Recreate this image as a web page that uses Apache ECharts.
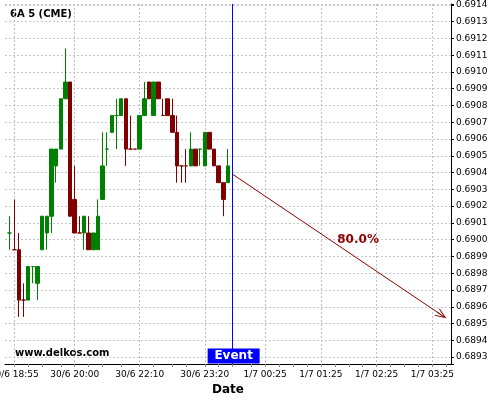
<!DOCTYPE html>
<html><head><meta charset="utf-8">
<script src="https://cdn.jsdelivr.net/npm/echarts@6/dist/echarts.min.js"></script>
<style>html,body{margin:0;padding:0;background:#fff}#c{width:500px;height:400px}</style>
</head><body><div id="c"></div>
<script>
// ---- data ----
const title = '6A 5 (CME)';
const watermark = 'www.delkos.com';
const times = [
 '30/6 18:45','30/6 18:50','30/6 18:55','30/6 19:00','30/6 19:05','30/6 19:10','30/6 19:15','30/6 19:20',
 '30/6 19:25','30/6 19:30','30/6 19:35','30/6 19:40','30/6 19:45','30/6 19:50','30/6 19:55','30/6 20:00',
 '30/6 20:05','30/6 20:10','30/6 20:15','30/6 20:20','30/6 20:25','30/6 20:30','30/6 20:35','30/6 21:40',
 '30/6 21:45','30/6 21:50','30/6 21:55','30/6 22:00','30/6 22:05','30/6 22:10','30/6 22:15','30/6 22:20',
 '30/6 22:25','30/6 22:30','30/6 22:35','30/6 22:40','30/6 22:45','30/6 22:50','30/6 22:55','30/6 23:00',
 '30/6 23:05','30/6 23:10','30/6 23:15','30/6 23:20','30/6 23:25','30/6 23:30','30/6 23:35','30/6 23:40',
 '30/6 23:45','30/6 23:50','30/6 23:55','1/7 00:00','1/7 00:05','1/7 00:10','1/7 00:15','1/7 00:20',
 '1/7 00:25','1/7 00:30','1/7 00:35','1/7 00:40','1/7 00:45','1/7 00:50','1/7 00:55','1/7 01:00',
 '1/7 01:05','1/7 01:10','1/7 01:15','1/7 01:20','1/7 01:25','1/7 01:30','1/7 01:35','1/7 01:40',
 '1/7 01:45','1/7 01:50','1/7 01:55','1/7 02:00','1/7 02:05','1/7 02:10','1/7 02:15','1/7 02:20',
 '1/7 02:25','1/7 02:30','1/7 02:35','1/7 02:40','1/7 02:45','1/7 02:50','1/7 02:55','1/7 03:00',
 '1/7 03:05','1/7 03:10','1/7 03:15','1/7 03:20','1/7 03:25','1/7 03:30','1/7 03:35','1/7 03:40','1/7 03:45'
];
const labelTimes = ['30/6 18:55','30/6 20:00','30/6 22:10','30/6 23:20','1/7 00:25','1/7 01:25','1/7 02:25','1/7 03:25'];
const minorTickTimes = ['30/6 19:10','30/6 19:25','30/6 19:45','30/6 20:15','30/6 20:30','30/6 21:50',
 '30/6 22:25','30/6 22:45','30/6 23:00','30/6 23:35','30/6 23:50','1/7 00:10','1/7 00:40','1/7 00:55',
 '1/7 01:10','1/7 01:40','1/7 01:55','1/7 02:10','1/7 02:40','1/7 02:55','1/7 03:10','1/7 03:40'];

// candles: 30/6 18:50 .. 30/6 23:45
const candleTimes = times.slice(1, 49);
const dirs   = ['u','d','d','d','u','u','u','u','u','u','u','u','u','d','d','d','u','d','u','u','u','u','u','u',
                'u','d','d','d','u','u','d','u','d','d','d','d','d','d','d','u','d','u','u','d','d','d','d','u'];
const opens  = [0.69004,0.68994,0.68994,0.68964,0.68964,0.68984,0.68974,0.68994,0.69004,0.69014,0.69044,0.69054,
                0.69084,0.69094,0.69024,0.69004,0.69004,0.69004,0.68994,0.68994,0.69024,0.69054,0.69064,0.69074,
                0.69074,0.69084,0.69054,0.69054,0.69054,0.69074,0.69094,0.69074,0.69094,0.69074,0.69084,0.69074,
                0.69064,0.69044,0.69044,0.69044,0.69054,0.69054,0.69044,0.69064,0.69054,0.69044,0.69034,0.69034];
const closes = [0.69004,0.68994,0.68964,0.68964,0.68984,0.68984,0.68984,0.69014,0.69014,0.69054,0.69054,0.69084,
                0.69094,0.69014,0.69004,0.69004,0.69014,0.68994,0.69004,0.69014,0.69044,0.69054,0.69074,0.69074,
                0.69084,0.69054,0.69054,0.69054,0.69074,0.69084,0.69084,0.69094,0.69084,0.69074,0.69074,0.69064,
                0.69044,0.69044,0.69044,0.69054,0.69044,0.69054,0.69064,0.69054,0.69044,0.69034,0.69024,0.69044];
const lows   = [0.68994,0.68994,0.68954,0.68954,0.68964,0.68974,0.68964,0.68994,0.68994,0.69004,0.69034,0.69054,
                0.69084,0.69014,0.69004,0.69004,0.68994,0.68994,0.68994,0.68994,0.69024,0.69044,0.69064,0.69054,
                0.69074,0.69044,0.69054,0.69054,0.69054,0.69074,0.69084,0.69074,0.69084,0.69074,0.69074,0.69064,
                0.69034,0.69034,0.69034,0.69044,0.69044,0.69044,0.69044,0.69054,0.69044,0.69034,0.69014,0.69034];
const highs  = [0.69014,0.69024,0.69004,0.68974,0.68984,0.68984,0.68984,0.69014,0.69014,0.69054,0.69054,0.69084,
                0.69114,0.69094,0.69044,0.69014,0.69014,0.69014,0.69004,0.69024,0.69064,0.69064,0.69074,0.69084,
                0.69084,0.69084,0.69074,0.69054,0.69074,0.69094,0.69094,0.69094,0.69094,0.69084,0.69084,0.69084,
                0.69074,0.69044,0.69054,0.69064,0.69054,0.69054,0.69064,0.69064,0.69054,0.69044,0.69034,0.69054];

const yMin = 0.689259, yMax = 0.691405;
const eventTime = '30/6 23:50';
const eventLabel = 'Event';
const projStart = ['30/6 23:50', 0.69039];
const projEnd   = ['1/7 03:35', 0.68955];
const projLabel = ['1/7 02:05', 0.69000, '80.0%'];

// ---- chart ----
const FONT = 'DejaVu Sans';
const UP = '#008000', DOWN = '#800000';
function build(dir) {
  return times.map(t => {
    const i = candleTimes.indexOf(t);
    return (i >= 0 && dirs[i] === dir) ? [opens[i], closes[i], lows[i], highs[i]] : '-';
  });
}
const tickSet = new Set(labelTimes.concat(minorTickTimes));
const chart = echarts.init(document.getElementById('c'), null, {renderer: 'canvas'});
const arrowPath = 'path://M5,0 L10,10 L8.8,10 L5,2.4 L1.2,10 L0,10 Z M4.55,0 L5.45,0 L5.45,10 L4.55,10 Z';
chart.setOption({
  animation: false,
  textStyle: {fontFamily: FONT},
  grid: {left: 5, right: 49, top: 4, bottom: 36, containLabel: false, outerBoundsMode: 'none'},
  xAxis: {
    type: 'category', data: times, boundaryGap: false,
    axisLine: {show: true, lineStyle: {color: '#000', width: 1}},
    axisTick: {show: true, length: 3, lineStyle: {color: '#888'}, interval: (i, v) => tickSet.has(v)},
    axisLabel: {show: true, interval: (i, v) => labelTimes.includes(v), fontSize: 9, color: '#000', margin: 6, fontFamily: FONT},
    splitLine: {show: true, interval: (i, v) => labelTimes.includes(v), lineStyle: {color: '#c0c0c0', type: [2, 2]}},
    name: 'Date', nameLocation: 'middle', nameGap: 19,
    nameTextStyle: {fontWeight: 'bold', fontSize: 12, color: '#000', fontFamily: FONT}
  },
  yAxis: {
    type: 'value', position: 'right', min: yMin, max: yMax, scale: true, splitNumber: 21,
    axisLine: {show: true, lineStyle: {color: '#000'}},
    axisTick: {show: true, length: 3, lineStyle: {color: '#000'}},
    axisLabel: {fontSize: 9, color: '#000', margin: 5, fontFamily: FONT,
      formatter: v => Math.abs(v * 10000 - Math.round(v * 10000)) < 0.01 ? v.toFixed(4) : ''},
    splitLine: {show: true, lineStyle: {color: '#c8c8c8', type: [2, 2]}}
  },
  graphic: [
    {type: 'text', left: 10, top: 9, style: {text: title, font: 'bold 10px "DejaVu Sans"', fill: '#000'}},
    {type: 'text', left: 15, top: 348, style: {text: watermark, font: 'bold 10px "DejaVu Sans"', fill: '#000'}}
  ],
  series: [
    {
      type: 'candlestick', name: 'up', data: build('u'), barWidth: 4, silent: true,
      itemStyle: {color: UP, color0: UP, borderColor: UP, borderColor0: UP, borderWidth: 1},
      markLine: {
        silent: true, symbol: ['none', 'none'], label: {show: false},
        lineStyle: {color: '#0000ff', width: 1, type: 'solid'},
        data: [{xAxis: eventTime}]
      },
      markPoint: {
        silent: true,
        data: [
          {coord: [eventTime, yMin], symbol: 'rect', symbolSize: [52, 15], symbolOffset: [1, -8],
           itemStyle: {color: '#0000ff'},
           label: {show: true, position: 'inside', formatter: eventLabel, color: '#fff', fontWeight: 'bold', fontSize: 12, fontFamily: FONT}},
          {coord: [projLabel[0], projLabel[1]], symbol: 'circle', symbolSize: 0,
           label: {show: true, position: 'inside', formatter: projLabel[2], color: '#8b0000', fontWeight: 'bold', fontSize: 12, fontFamily: FONT}}
        ]
      }
    },
    {
      type: 'candlestick', name: 'down', data: build('d'), barWidth: 4, silent: true,
      itemStyle: {color: DOWN, color0: DOWN, borderColor: DOWN, borderColor0: DOWN, borderWidth: 1},
      markLine: {
        silent: true, label: {show: false},
        lineStyle: {color: '#8b0000', width: 1, type: 'solid'},
        data: [[
          {coord: projStart, symbol: 'none'},
          {coord: projEnd, symbol: arrowPath, symbolSize: [9, 11]}
        ]]
      }
    }
  ]
});
</script></body></html>
